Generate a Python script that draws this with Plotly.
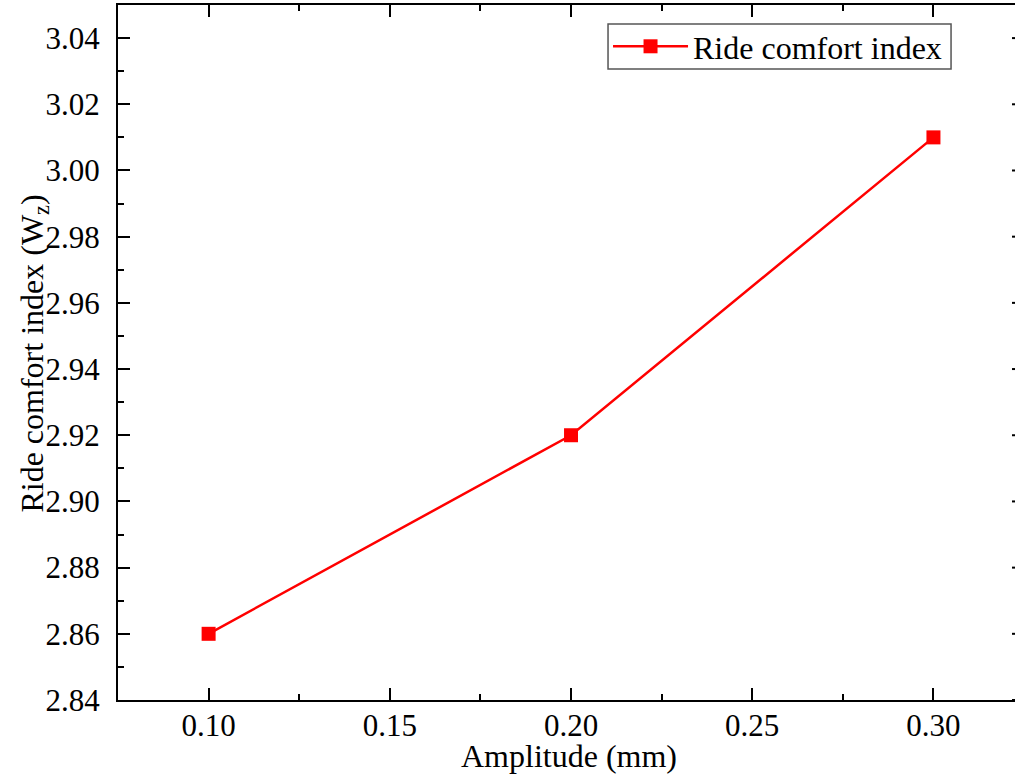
import plotly.graph_objects as go

# Data
amplitude = [0.10, 0.20, 0.30]
ride_comfort = [2.86, 2.92, 3.01]
series_name = "Ride comfort index"
x_title = "Amplitude (mm)"
y_title = "Ride comfort index (W<sub>z</sub>)"
y_major_ticks = [2.84, 2.86, 2.88, 2.90, 2.92, 2.94, 2.96, 2.98, 3.00, 3.02, 3.04]

FONT = "Liberation Serif"
X_RANGE = [0.075, 0.3225]
Y_RANGE = [2.84, 3.05]

fig = go.Figure()
fig.add_trace(go.Scatter(
    x=amplitude, y=ride_comfort, name=series_name,
    mode="lines+markers",
    line=dict(color="#FF0000", width=2.5),
    marker=dict(symbol="square", size=14, color="#FF0000", line=dict(width=0)),
))
# invisible trace to carry the minor-tick overlay axes
fig.add_trace(go.Scatter(x=amplitude, y=ride_comfort, xaxis="x2", yaxis="y2",
                         mode="lines", line=dict(width=0), opacity=0,
                         showlegend=False, hoverinfo="skip"))

shapes = []
# right-hand mirrored major ticks (only their inner tips are visible)
for v in y_major_ticks:
    shapes.append(dict(type="line", xref="paper", yref="y",
                       x0=1 - 3/897, x1=1.0, y0=v, y1=v,
                       line=dict(color="black", width=2)))
# legend frame
shapes.append(dict(type="rect", xref="paper", yref="paper",
                   x0=0.5463, x1=0.9287, y0=0.9079, y1=0.9727,
                   line=dict(color="#555555", width=1.5), fillcolor="rgba(0,0,0,0)",
                   layer="above"))

annotations = [
    dict(text=x_title, xref="paper", yref="paper", x=0.5033, y=-0.0806,
         xanchor="center", yanchor="middle", showarrow=False,
         font=dict(family=FONT, size=32, color="black")),
    dict(text=y_title, xref="paper", yref="paper", x=-0.0935, y=0.4986,
         xanchor="center", yanchor="middle", showarrow=False, textangle=-90,
         font=dict(family=FONT, size=32, color="black")),
]

fig.update_layout(
    width=1015, height=780,
    margin=dict(l=118, r=0, t=5, b=80),
    paper_bgcolor="white", plot_bgcolor="white",
    font=dict(family=FONT, color="black", size=31),
    showlegend=True,
    legend=dict(x=0.5463, y=0.9403, xanchor="left", yanchor="middle",
                itemwidth=75, borderwidth=0, bgcolor="rgba(0,0,0,0)",
                font=dict(family=FONT, size=32, color="black")),
    shapes=shapes,
    annotations=annotations,
    xaxis=dict(
        range=X_RANGE,
        tick0=0.1, dtick=0.05, tickformat=".2f",
        showgrid=False, zeroline=False,
        showline=True, linecolor="black", linewidth=2, mirror="ticks",
        ticks="inside", ticklen=12, tickwidth=2, tickcolor="black",
        ticklabelstandoff=-3,
        tickfont=dict(family=FONT, size=31, color="black"),
    ),
    yaxis=dict(
        range=Y_RANGE,
        tick0=2.84, dtick=0.02, tickformat=".2f",
        showgrid=False, zeroline=False,
        showline=True, linecolor="black", linewidth=2, mirror=False,
        ticks="inside", ticklen=12, tickwidth=2, tickcolor="black",
        ticklabelstandoff=10,
        tickfont=dict(family=FONT, size=31, color="black"),
    ),
    xaxis2=dict(
        overlaying="x", matches="x", range=X_RANGE,
        tick0=0.075, dtick=0.025, showticklabels=False,
        showgrid=False, zeroline=False, showline=False, mirror="ticks",
        ticks="inside", ticklen=6, tickwidth=2, tickcolor="black",
    ),
    yaxis2=dict(
        overlaying="y", matches="y", range=Y_RANGE,
        tick0=2.84, dtick=0.01, showticklabels=False,
        showgrid=False, zeroline=False, showline=False,
        ticks="inside", ticklen=6, tickwidth=2, tickcolor="black",
    ),
)

fig.write_html("out.html",
               config={"displayModeBar": False},
               post_script="document.body.style.margin='0';document.body.style.overflow='hidden';")
